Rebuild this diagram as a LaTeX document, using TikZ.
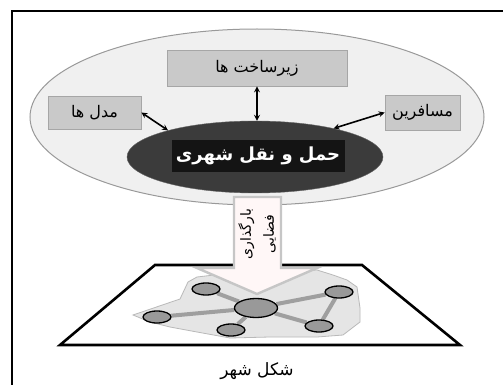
\documentclass[tikz,border=0pt]{standalone}
\usepackage{fontspec}
\newfontfamily\farsi[Script=Arabic]{DejaVu Sans}
\TeXXeTstate=1
\usetikzlibrary{shapes.geometric, arrows, backgrounds}
\tikzstyle{boxes} = [rectangle, text centered, draw=gray!70, line width=0.8pt, fill=gray!42, inner sep=1pt, font=\farsi\fontsize{16}{18}\selectfont]
\tikzstyle{arrow} = [line width=1.6pt, <->, >=stealth]
\tikzstyle{town} = [ellipse, draw=black, line width=1.3pt, fill=gray!80, minimum width=28pt, minimum height=12pt, inner sep=0pt]
\tikzstyle{street} = [line width=4pt, draw=gray!75]

\begin{document}
\begin{tikzpicture}[x=1pt, y=-1pt]
    \useasboundingbox (0,0) rectangle (503,385);
    %Frame
    \draw [line width=2pt] (12,385) -- (12,11) -- (503,11);

    %Main Nodes
    \node (world) [ellipse, minimum width=454pt, minimum height=176pt, fill=gray!12, draw=gray!80, line width=1pt] at (257,117) {};
    \node (hub) [ellipse, minimum width=256pt, minimum height=72pt, fill=black!77, draw=black!60] at (255,157) {};
    \node (hubText) [fill=black!92, text=white, minimum width=173pt, minimum height=32pt, font=\farsi\bfseries\fontsize{18}{20}\selectfont] at (258,156) {\beginR حمل و نقل شهری\endR};
    \node (infra) [boxes, minimum width=180pt, minimum height=36pt] at (257,68) {\beginR زیرساخت ها\endR};
    \node (models) [boxes, minimum width=93pt, minimum height=33pt] at (94.5,112.5) {\beginR مدل ها\endR};
    \node (pass) [boxes, minimum width=75pt, minimum height=35pt] at (422.5,112.5) {\beginR مسافرین\endR};

    %Arrows
    \draw [arrow] (infra.south) -- (infra.south |- hub.north);
    \draw [arrow] (models.east) -- (hub.163);
    \draw [arrow] (pass.west) -- (hub.20);

    %City map
    \node (core) [town, minimum width=43pt, minimum height=19pt] at (256,308) {};
    \node (townA) [town] at (206,289) {};
    \node (townB) [town] at (157,317) {};
    \node (townC) [town] at (231,330) {};
    \node (townD) [town] at (319,326) {};
    \node (townE) [town] at (339,292) {};
    \begin{scope}[on background layer]
        \draw [line width=2.6pt, fill=white] (155,265) -- (362,265) -- (460,345) -- (60,345) -- cycle;
        \draw [fill=gray!20, draw=gray!55, line width=0.8pt] (133,315) -- (180,299) -- (188,282) -- (197,277)
            -- (240,272) -- (280,272) -- (317,270) -- (333,275) -- (347,280) -- (357,287) -- (360,308)
            -- (360,322) -- (343,335) -- (317,337) -- (270,337) -- (230,338) -- (197,332) -- (170,327)
            -- (150,322) -- cycle;
        \draw [street] (core) -- (townA);
        \draw [street] (core) -- (townB);
        \draw [street] (core) -- (townC);
        \draw [street] (core) -- (townD);
        \draw [street] (core) -- (townE);
        \draw [street] (townE) -- (townD);
    \end{scope}

    %Spatial loading arrow
    \draw [fill=red!3!white, draw=gray!45, line width=2.4pt, line join=miter] (234,197) -- (281,197) -- (281,268)
        -- (317,268) -- (257,294) -- (197,268) -- (234,268) -- cycle;
    \node (load) [rotate=90, align=center, font=\farsi\fontsize{14}{23}\selectfont] at (257,234) {\beginR بارگذاری\endR\\\beginR فضایی\endR};

    %Caption
    \node (city) [font=\farsi\fontsize{17}{19}\selectfont] at (257,371) {\beginR شکل شهر\endR};
\end{tikzpicture}
\end{document}
